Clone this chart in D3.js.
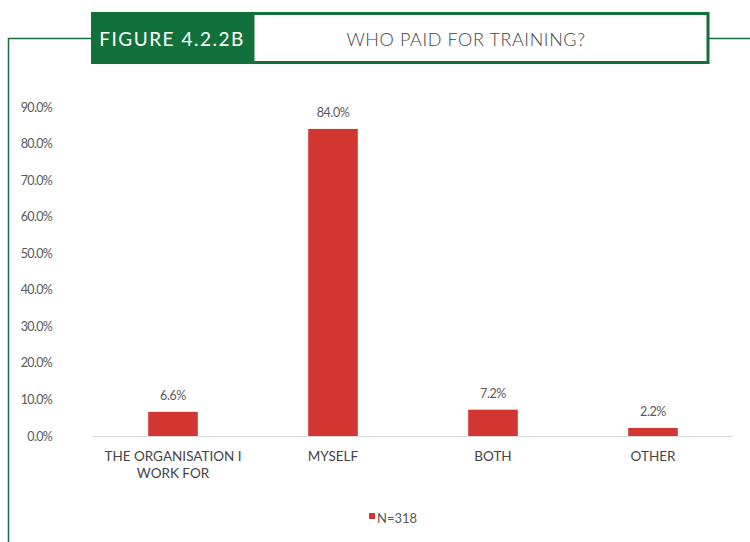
<!DOCTYPE html>
<html>
<head>
<meta charset="utf-8">
<script src="https://cdn.jsdelivr.net/npm/d3@7"></script>
<style>
  body { margin: 0; background: #fff; }
  svg { display: block; font-family: Lato, "DejaVu Sans", sans-serif; }
</style>
</head>
<body>
<script>
// chart data
const categories = ["THE ORGANISATION I|WORK FOR", "MYSELF", "BOTH", "OTHER"];
const values = [6.6, 84.0, 7.2, 2.2];
const yTicks = [0, 10, 20, 30, 40, 50, 60, 70, 80, 90];
const seriesName = "N=318";

var W = 750, H = 542;
var green = "#12703a", red = "#d13631";

var svg = d3.select("body").append("svg")
  .attr("width", W)
  .attr("height", H);

// frame lines
svg.append("path")
  .attr("d", "M8.5," + H + " V38.5 H91 M709,38.5 H" + W)
  .attr("fill", "none")
  .attr("stroke", green)
  .attr("stroke-width", 1.5);

// header boxes
svg.append("rect").attr("x", 91).attr("y", 12).attr("width", 162).attr("height", 52).attr("fill", green);
svg.append("rect").attr("x", 253).attr("y", 13.5).attr("width", 455).attr("height", 49)
  .attr("fill", "#fff").attr("stroke", green).attr("stroke-width", 3);
svg.append("text").attr("x", 172).attr("y", 46).attr("text-anchor", "middle")
  .attr("fill", "#fff").style("font-size", "19px").style("letter-spacing", "1.5px")
  .text("FIGURE 4.2.2B");
svg.append("text").attr("x", 466).attr("y", 46).attr("text-anchor", "middle")
  .attr("fill", "#444").style("font-size", "18px").style("font-weight", 300)
  .style("letter-spacing", "0.6px")
  .text("WHO PAID FOR TRAINING?");

var x = d3.scaleBand()
  .domain(categories)
  .range([93, 733])
  .paddingInner(0.69)
  .paddingOuter(0.345);

var y = d3.scaleLinear()
  .domain([0, 90])
  .range([436, 107]);

// y axis labels
svg.append("g")
  .attr("transform", "translate(52,0)")
  .call(d3.axisLeft(y).tickValues(yTicks).tickSize(0).tickPadding(0)
    .tickFormat(d => d.toFixed(1) + "%"))
  .call(g => g.select(".domain").remove())
  .call(g => g.selectAll("text").attr("fill", "#595959").style("font-size", "12.5px")
    .style("font-family", "Lato, sans-serif").style("letter-spacing", "-0.7px"));

// baseline
svg.append("line")
  .attr("x1", 93).attr("x2", 733)
  .attr("y1", y(0) + 0.5).attr("y2", y(0) + 0.5)
  .attr("stroke", "#d9d9d9");

// bars
svg.append("g").selectAll("rect")
  .data(values)
  .enter().append("rect")
  .attr("x", (d, i) => x(categories[i]))
  .attr("y", d => y(d))
  .attr("width", x.bandwidth())
  .attr("height", d => y(0) - y(d))
  .attr("fill", red);

// value labels
svg.append("g").selectAll("text")
  .data(values)
  .enter().append("text")
  .attr("x", (d, i) => x(categories[i]) + x.bandwidth() / 2)
  .attr("y", d => y(d) - 12)
  .attr("text-anchor", "middle")
  .attr("fill", "#595959")
  .style("font-size", "12.5px")
  .style("letter-spacing", "-0.4px")
  .text(d => d.toFixed(1) + "%");

// category labels
var cat = svg.append("g").selectAll("text")
  .data(categories)
  .enter().append("text")
  .attr("x", d => x(d) + x.bandwidth() / 2)
  .attr("y", 461)
  .attr("text-anchor", "middle")
  .attr("fill", "#444")
  .style("font-size", "13.5px")
  .style("letter-spacing", "0px");
cat.each(function (d) {
  var lines = d.split("|");
  var t = d3.select(this);
  lines.forEach((l, k) => {
    t.append("tspan").attr("x", x(d) + x.bandwidth() / 2).attr("dy", k ? 17 : 0).text(l);
  });
});

// legend
svg.append("rect").attr("x", 369).attr("y", 513).attr("width", 6).attr("height", 6).attr("fill", red);
svg.append("text").attr("x", 377).attr("y", 523)
  .attr("fill", "#595959").style("font-size", "13px")
  .text(seriesName);
</script>
</body>
</html>
